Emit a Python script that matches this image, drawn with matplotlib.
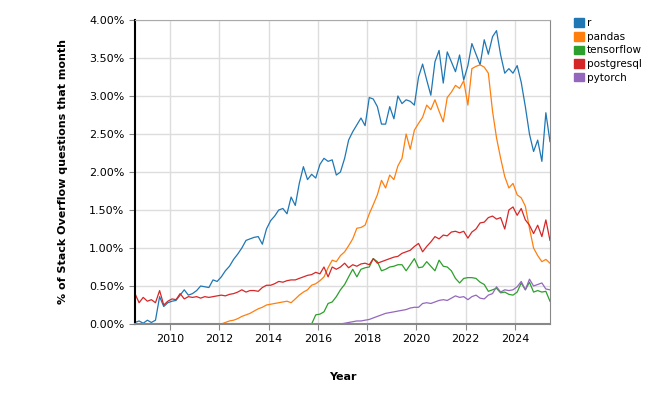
#!/usr/bin/env python3
"""Share of Stack Overflow questions per month for a few tags."""
import sys
import pandas as pd
import matplotlib
matplotlib.use("Agg")
import matplotlib.pyplot as plt
import matplotlib.dates as mdates
from matplotlib.patches import Patch
from matplotlib.ticker import FuncFormatter

# values in %, one point every two months
r_start = "2008-08-01"
r_vals = [
    0.02, 0.04, 0.01,
    0.05, 0.02, 0.05, 0.36, 0.23, 0.28,
    0.30, 0.31, 0.38, 0.45, 0.38, 0.40,
    0.44, 0.50, 0.49, 0.48, 0.58, 0.56,
    0.62, 0.70, 0.76, 0.85, 0.92, 1.00,
    1.10, 1.12, 1.14, 1.15, 1.05, 1.25,
    1.36, 1.42, 1.50, 1.52, 1.45, 1.67,
    1.56, 1.85, 2.07, 1.90, 1.97, 1.92,
    2.10, 2.18, 2.14, 2.16, 1.96, 2.00,
    2.18, 2.42, 2.53, 2.62, 2.71, 2.61,
    2.98, 2.96, 2.86, 2.63, 2.63, 2.86,
    2.70, 3.00, 2.90, 2.95, 2.93, 2.88,
    3.25, 3.42, 3.21, 3.01, 3.45, 3.60,
    3.17, 3.58, 3.45, 3.32, 3.54, 3.21,
    3.40, 3.69, 3.55, 3.41, 3.74, 3.55,
    3.78, 3.86, 3.54, 3.30, 3.36, 3.30,
    3.40, 3.18, 2.86, 2.50, 2.27, 2.42,
    2.14, 2.78, 2.40,
]

pandas_start = "2012-02-01"
pandas_vals = [
    0.00, 0.02, 0.04, 0.05, 0.07, 0.10,
    0.12, 0.14, 0.17, 0.20, 0.22, 0.25,
    0.26, 0.27, 0.28, 0.29, 0.30, 0.28,
    0.33, 0.38, 0.42, 0.45, 0.51, 0.53,
    0.57, 0.62, 0.74, 0.84, 0.82, 0.90,
    0.95, 1.03, 1.12, 1.26, 1.27, 1.30,
    1.45, 1.57, 1.70, 1.89, 1.79, 1.96,
    1.90, 2.08, 2.18, 2.50, 2.30, 2.55,
    2.64, 2.72, 2.88, 2.82, 2.95, 2.80,
    2.66, 2.98, 3.05, 3.14, 3.10, 3.20,
    2.88, 3.36, 3.39, 3.41, 3.38, 3.30,
    2.80, 2.45, 2.18, 1.94, 1.79, 1.85,
    1.70, 1.66, 1.55, 1.26, 1.00, 0.90,
    0.82, 0.85, 0.80,
]

tensorflow_start = "2015-10-01"
tensorflow_vals = [
    0.00, 0.12,
    0.13, 0.16, 0.27, 0.29, 0.36, 0.45,
    0.52, 0.62, 0.72, 0.62, 0.72, 0.74,
    0.75, 0.86, 0.82, 0.70, 0.72, 0.75,
    0.76, 0.78, 0.78, 0.70, 0.78, 0.86,
    0.74, 0.75, 0.82, 0.76, 0.70, 0.84,
    0.76, 0.75, 0.70, 0.60, 0.54, 0.60,
    0.61, 0.61, 0.60, 0.55, 0.52, 0.43,
    0.45, 0.47, 0.41, 0.42, 0.39, 0.38,
    0.42, 0.54, 0.45, 0.55, 0.42, 0.44,
    0.42, 0.43, 0.30,
]

postgresql_start = "2008-08-01"
postgresql_vals = [
    0.40, 0.28, 0.35,
    0.30, 0.32, 0.28, 0.44, 0.25, 0.30,
    0.33, 0.32, 0.40, 0.33, 0.36, 0.35,
    0.36, 0.34, 0.36, 0.35, 0.36, 0.37,
    0.38, 0.37, 0.39, 0.40, 0.42, 0.45,
    0.42, 0.44, 0.44, 0.43, 0.48, 0.51,
    0.51, 0.53, 0.56, 0.55, 0.57, 0.58,
    0.58, 0.60, 0.62, 0.64, 0.65, 0.68,
    0.66, 0.75, 0.62, 0.75, 0.72, 0.75,
    0.80, 0.74, 0.78, 0.76, 0.79, 0.80,
    0.78, 0.86, 0.80, 0.82, 0.84, 0.86,
    0.88, 0.89, 0.93, 0.95, 0.97, 1.02,
    1.06, 0.95, 1.02, 1.08, 1.15, 1.12,
    1.17, 1.16, 1.21, 1.22, 1.20, 1.22,
    1.13, 1.21, 1.25, 1.33, 1.34, 1.40,
    1.42, 1.38, 1.40, 1.25, 1.50, 1.54,
    1.43, 1.52, 1.37, 1.30, 1.19, 1.30,
    1.15, 1.37, 1.10,
]

pytorch_start = "2015-10-01"
pytorch_vals = [
    0.00, 0.00,
    0.00, 0.00, 0.00, 0.00, 0.00, 0.00,
    0.01, 0.02, 0.03, 0.04, 0.04, 0.05,
    0.06, 0.08, 0.10, 0.12, 0.14, 0.15,
    0.16, 0.17, 0.18, 0.19, 0.21, 0.22,
    0.22, 0.27, 0.28, 0.27, 0.29, 0.31,
    0.32, 0.31, 0.34, 0.37, 0.35, 0.36,
    0.32, 0.36, 0.38, 0.34, 0.33, 0.38,
    0.40, 0.49, 0.42, 0.45, 0.44, 0.45,
    0.49, 0.56, 0.45, 0.59, 0.50, 0.52,
    0.54, 0.46, 0.45,
]

tags = ["r", "pandas", "tensorflow", "postgresql", "pytorch"]
colors = ["#1f77b4", "#ff7f0e", "#2ca02c", "#d62728", "#9467bd"]


def main():
    series = [
        (r_start, r_vals),
        (pandas_start, pandas_vals),
        (tensorflow_start, tensorflow_vals),
        (postgresql_start, postgresql_vals),
        (pytorch_start, pytorch_vals),
    ]

    fig = plt.figure(figsize=(6.6, 4.0), dpi=100)
    ax = fig.add_axes([0.2045, 0.19, 0.6288, 0.76])

    for (start, vals), color in zip(series, colors):
        dates = pd.date_range(start, periods=len(vals), freq="2MS")
        ax.plot(dates, vals, color=color, lw=0.9)

    ax.set_xlim(pd.Timestamp(r_start),
                pd.date_range(r_start, periods=len(r_vals), freq="2MS")[-1])
    ax.set_ylim(0, 4)
    ax.set_yticks([i * 0.5 for i in range(9)])
    ax.yaxis.set_major_formatter(FuncFormatter(lambda v, _: f"{v:.2f}%"))
    ax.xaxis.set_major_locator(mdates.YearLocator(2))
    ax.xaxis.set_major_formatter(mdates.DateFormatter("%Y"))

    ax.grid(True, color="#dddddd", lw=1)
    ax.set_axisbelow(True)
    ax.tick_params(labelsize=8, length=4, color="#888888")
    ax.spines["left"].set_color("black")
    ax.spines["left"].set_linewidth(1.5)
    ax.spines["bottom"].set_color("#888888")
    ax.spines["bottom"].set_linewidth(1.5)
    ax.spines["top"].set_color("#aaaaaa")
    ax.spines["right"].set_color("#888888")

    ax.set_xlabel("Year", fontsize=8, fontweight="bold", labelpad=20)
    ax.set_ylabel("% of Stack Overflow questions that month", fontsize=8,
                  fontweight="bold", labelpad=15)

    handles = [Patch(color=c) for c in colors]
    fig.legend(handles, tags, loc="upper left", bbox_to_anchor=(0.864, 0.965),
               frameon=False, fontsize=7.5, handlelength=0.9,
               handleheight=0.9, handletextpad=0.3, labelspacing=0.35,
               borderaxespad=0)

    fig.savefig("out.png", dpi=100)
    return 0


if __name__ == "__main__":
    sys.exit(main())
